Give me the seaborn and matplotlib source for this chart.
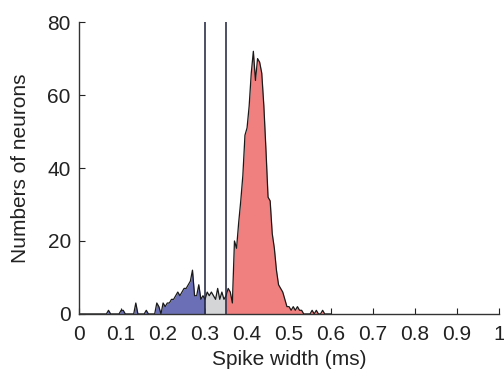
import numpy as np
import matplotlib
matplotlib.use("Agg")
import matplotlib.pyplot as plt
import seaborn as sns

# spike width bins (ms), bin width 0.005
widths = np.round(np.arange(0.0, 0.6001, 0.005), 3)

# counts per bin (0.000 .. 0.600)
counts = [
    0, 0, 0, 0, 0, 0, 0, 0, 0, 0,        # 0.000 - 0.045
    0, 0, 0, 0, 1, 0, 0, 0, 0, 0,        # 0.050 - 0.095
    1, 1, 0, 0, 0, 0, 0, 3, 0, 0,        # 0.100 - 0.145
    0, 0, 1, 0, 0, 0, 0, 3, 2, 0,        # 0.150 - 0.195
    3, 2, 3, 3, 4, 4, 5, 6, 5, 6,        # 0.200 - 0.245
    7, 7, 8, 9, 12, 5, 5, 8, 4, 5,       # 0.250 - 0.295
    4, 6, 5, 6, 5, 4, 7, 4, 6, 4,        # 0.300 - 0.345
    5, 7, 6, 3, 20, 18, 25, 31, 38, 49,  # 0.350 - 0.395
    51, 57, 66, 72, 64, 70, 69, 66, 57, 45,  # 0.400 - 0.445
    32, 31, 22, 18, 12, 8, 7, 6, 4, 2,   # 0.450 - 0.495
    2, 1, 2, 1, 2, 1, 1, 0, 0, 0,        # 0.500 - 0.545
    0, 1, 0, 1, 0, 0, 1, 0, 0, 0,        # 0.550 - 0.595
    0,                                   # 0.600
]
counts = np.array(counts, dtype=float)

narrow_cut = 0.30
broad_cut = 0.35

x_ticks = [0, 0.1, 0.2, 0.3, 0.4, 0.5, 0.6, 0.7, 0.8, 0.9, 1]
x_tick_labels = ["0", "0.1", "0.2", "0.3", "0.4", "0.5", "0.6", "0.7", "0.8", "0.9", "1"]
y_ticks = [0, 20, 40, 60, 80]

sns.set_style("ticks")
plt.rcParams["font.family"] = ["Liberation Sans", "DejaVu Sans"]

fig = plt.figure(figsize=(5.04, 3.81), dpi=100)
ax = fig.add_axes([0.157, 0.176, 0.833, 0.766])

blue = widths <= narrow_cut
grey = (widths >= narrow_cut) & (widths <= broad_cut)
red = widths >= broad_cut
ax.fill_between(widths[blue], 0, counts[blue], color="#6b70b6", lw=0)
ax.fill_between(widths[grey], 0, counts[grey], color="#d4d5d7", lw=0)
ax.fill_between(widths[red], 0, counts[red], color="#f08080", lw=0)

sns.lineplot(x=widths, y=counts, ax=ax, color="#1a1a1a", lw=0.9,
             estimator=None, sort=False)

for cut in (narrow_cut, broad_cut):
    ax.axvline(cut, ymin=0, ymax=1, color="#1c1f3c", lw=1.1)

ax.set_xlim(0, 1)
ax.set_ylim(0, 80)
ax.set_xticks(x_ticks)
ax.set_xticklabels(x_tick_labels)
ax.set_yticks(y_ticks)
ax.tick_params(direction="in", length=4, width=0.8, labelsize=15,
               colors="#222222")
ax.tick_params(axis="x", pad=8)
ax.tick_params(axis="y", pad=6)
ax.set_xlabel("Spike width (ms)", fontsize=15, color="#222222")
ax.set_ylabel("Numbers of neurons", fontsize=15, color="#222222")
ax.xaxis.set_label_coords(0.5, -0.125)
ax.yaxis.set_label_coords(-0.118, 0.5)

for side in ("top", "right"):
    ax.spines[side].set_visible(False)
for side in ("left", "bottom"):
    ax.spines[side].set_color("#333333")
    ax.spines[side].set_linewidth(1.0)

fig.savefig("out.png", dpi=100)
